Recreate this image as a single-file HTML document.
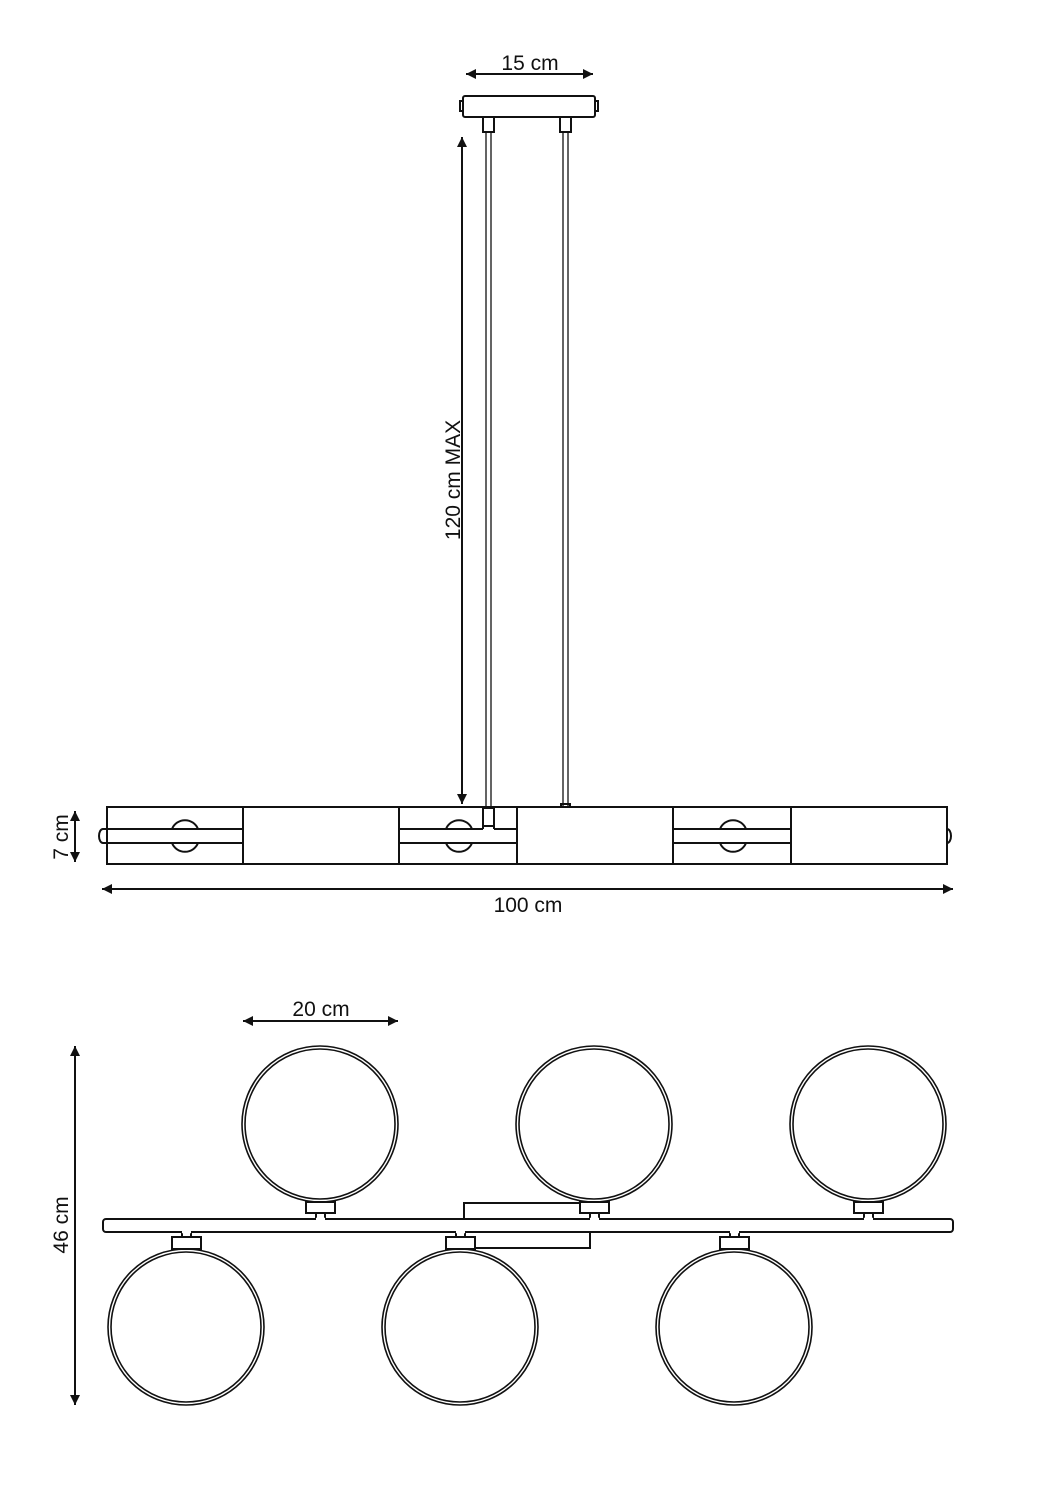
<!DOCTYPE html>
<html><head><meta charset="utf-8"><style>
html,body{margin:0;padding:0;background:#fff;}
svg{display:block;}
text{font-family:"Liberation Sans",sans-serif;font-size:21px;fill:#111;}
</style></head><body>
<svg width="1055" height="1500" viewBox="0 0 1055 1500" xmlns="http://www.w3.org/2000/svg">
<defs>
<marker id="a" viewBox="0 0 10 10" refX="10" refY="5" markerWidth="14" markerHeight="10" markerUnits="userSpaceOnUse" orient="auto-start-reverse"><path d="M0,0 L10,5 L0,10 z" fill="#111"/></marker>
</defs>
<g stroke="#111" stroke-width="2" fill="none">
<!-- dimensions -->
<line x1="466" y1="74" x2="593" y2="74" marker-start="url(#a)" marker-end="url(#a)"/>
<line x1="462" y1="137" x2="462" y2="804" marker-start="url(#a)" marker-end="url(#a)"/>
<line x1="75" y1="811" x2="75" y2="862" marker-start="url(#a)" marker-end="url(#a)"/>
<line x1="102" y1="889" x2="953" y2="889" marker-start="url(#a)" marker-end="url(#a)"/>
<line x1="243" y1="1021" x2="398" y2="1021" marker-start="url(#a)" marker-end="url(#a)"/>
<line x1="75" y1="1046" x2="75" y2="1405" marker-start="url(#a)" marker-end="url(#a)"/>

<!-- canopy -->
<rect x="463" y="96" width="132" height="21" rx="2"/>
<rect x="460" y="101" width="3" height="10"/>
<rect x="595" y="101" width="3" height="10"/>
<rect x="483" y="117" width="11" height="15"/>
<rect x="560" y="117" width="11" height="15"/>
<g stroke-width="1.3">
<line x1="486" y1="132" x2="486" y2="808"/><line x1="491" y1="132" x2="491" y2="808"/>
<line x1="563" y1="132" x2="563" y2="808"/><line x1="568" y1="132" x2="568" y2="808"/>
</g>
<rect x="561" y="804" width="9" height="3"/>

<!-- top view body -->
<rect x="107" y="807" width="840" height="57"/>
<line x1="243" y1="807" x2="243" y2="864"/>
<line x1="399" y1="807" x2="399" y2="864"/>
<line x1="517" y1="807" x2="517" y2="864"/>
<line x1="673" y1="807" x2="673" y2="864"/>
<line x1="791" y1="807" x2="791" y2="864"/>
<!-- circles -->
<path d="M172,829 A14,14 0 0 1 198,829"/><path d="M172,843 A14,14 0 0 0 198,843"/>
<path d="M446,829 A14,14 0 0 1 472,829"/><path d="M446,843 A14,14 0 0 0 472,843"/>
<path d="M720,829 A14,14 0 0 1 746,829"/><path d="M720,843 A14,14 0 0 0 746,843"/>
<!-- rods -->
<line x1="103" y1="829" x2="243" y2="829"/><line x1="103" y1="843" x2="243" y2="843"/>
<path d="M103,829 A4,7 0 0 0 103,843"/>
<line x1="399" y1="829" x2="483" y2="829"/><line x1="494" y1="829" x2="517" y2="829"/><line x1="399" y1="843" x2="517" y2="843"/>
<rect x="483" y="808" width="11" height="18"/>
<line x1="483" y1="826" x2="483" y2="829"/><line x1="494" y1="826" x2="494" y2="829"/>
<line x1="673" y1="829" x2="791" y2="829"/><line x1="673" y1="843" x2="791" y2="843"/>
<path d="M947,829 A4,7 0 0 1 947,843"/>

<!-- bottom view -->
<rect x="464" y="1203" width="126" height="16"/>
<rect x="460" y="1231" width="130" height="17"/>
<rect x="103" y="1219" width="850" height="13" rx="3" fill="#fff"/>
<g fill="#fff">
<!-- top sockets -->
<rect x="306" y="1202" width="29" height="11"/><rect x="316" y="1213" width="9" height="6"/>
<rect x="580" y="1202" width="29" height="11"/><rect x="590" y="1213" width="9" height="6"/>
<rect x="854" y="1202" width="29" height="11"/><rect x="864" y="1213" width="9" height="6"/>
<!-- bottom sockets -->
<rect x="172" y="1237" width="29" height="12"/><rect x="182" y="1232" width="9" height="5"/>
<rect x="446" y="1237" width="29" height="12"/><rect x="456" y="1232" width="9" height="5"/>
<rect x="720" y="1237" width="29" height="12"/><rect x="730" y="1232" width="9" height="5"/>
</g>
<line x1="316" y1="1219" x2="325" y2="1219" stroke="#fff" stroke-width="2.5"/>
<line x1="590" y1="1219" x2="599" y2="1219" stroke="#fff" stroke-width="2.5"/>
<line x1="864" y1="1219" x2="873" y2="1219" stroke="#fff" stroke-width="2.5"/>
<line x1="182" y1="1232" x2="191" y2="1232" stroke="#fff" stroke-width="2.5"/>
<line x1="456" y1="1232" x2="465" y2="1232" stroke="#fff" stroke-width="2.5"/>
<line x1="730" y1="1232" x2="739" y2="1232" stroke="#fff" stroke-width="2.5"/>
<g stroke-width="1.6">
<circle cx="320" cy="1124" r="78"/><circle cx="320" cy="1124" r="75"/>
<circle cx="594" cy="1124" r="78"/><circle cx="594" cy="1124" r="75"/>
<circle cx="868" cy="1124" r="78"/><circle cx="868" cy="1124" r="75"/>
<circle cx="186" cy="1327" r="78"/><circle cx="186" cy="1327" r="75"/>
<circle cx="460" cy="1327" r="78"/><circle cx="460" cy="1327" r="75"/>
<circle cx="734" cy="1327" r="78"/><circle cx="734" cy="1327" r="75"/>
</g>
</g>
<text x="530" y="70" text-anchor="middle">15 cm</text>
<text transform="translate(460,480) rotate(-90)" text-anchor="middle">120 cm MAX</text>
<text transform="translate(68,837) rotate(-90)" text-anchor="middle">7 cm</text>
<text x="528" y="912" text-anchor="middle">100 cm</text>
<text x="321" y="1016" text-anchor="middle">20 cm</text>
<text transform="translate(68,1225) rotate(-90)" text-anchor="middle">46 cm</text>
</svg>
</body></html>
